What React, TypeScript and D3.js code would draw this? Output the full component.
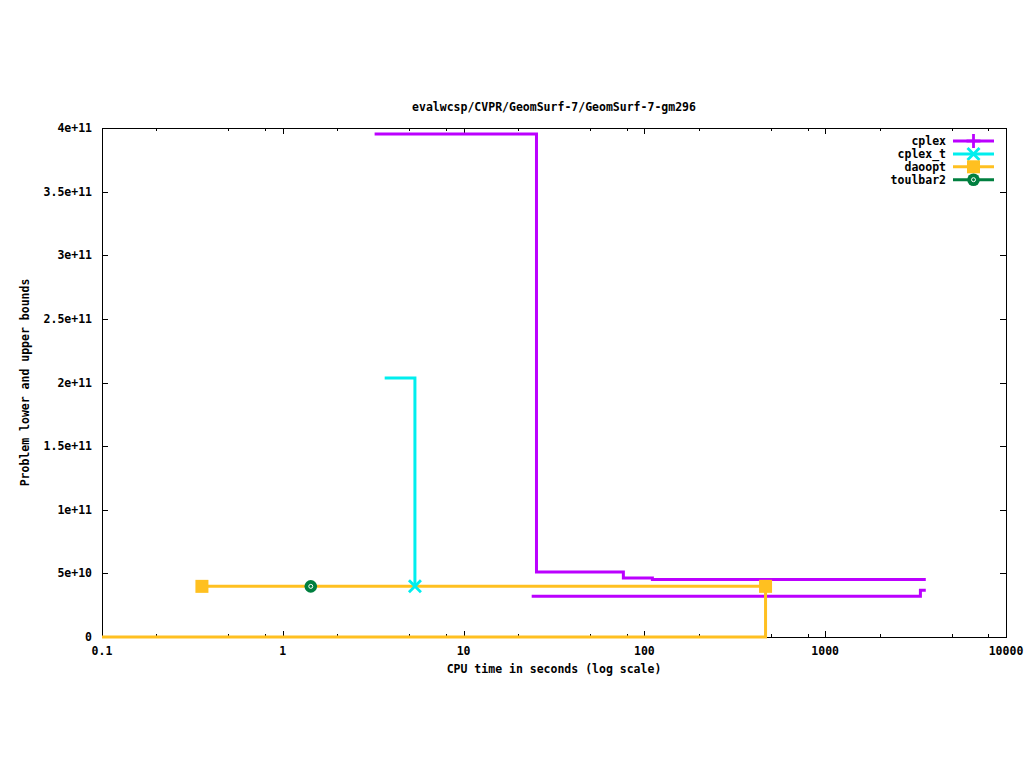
import React from "react";
import * as d3 from "d3";

const title = "evalwcsp/CVPR/GeomSurf-7/GeomSurf-7-gm296";
const xLabel = "CPU time in seconds (log scale)";
const yLabel = "Problem lower and upper bounds";

const xTicks = [0.1, 1, 10, 100, 1000, 10000];
const xTickLabels = ["0.1", "1", "10", "100", "1000", "10000"];
const xMinorFactors = [2, 5, 8];
const yTicks = [0, 5e10, 1e11, 1.5e11, 2e11, 2.5e11, 3e11, 3.5e11, 4e11];
const yTickLabels = ["0", "5e+10", "1e+11", "1.5e+11", "2e+11", "2.5e+11", "3e+11", "3.5e+11", "4e+11"];

// cplex upper bound
const cplexUpperT = [3.22, 25.3, 76.5, 110.7, 3600];
const cplexUpperV = [3.953e11, 5.11e10, 4.64e10, 4.52e10, 4.52e10];
// cplex lower bound
const cplexLowerT = [23.8, 3362, 3600];
const cplexLowerV = [3.2e10, 3.67e10, 3.67e10];
// cplex_t
const cplexTT = [3.66, 5.38];
const cplexTV = [2.035e11, 3.98e10];
// daoopt upper
const daooptUpperT = [0.357, 467.8];
const daooptUpperV = [3.98e10, 3.98e10];
// daoopt lower
const daooptLowerT = [0.1, 467.8];
const daooptLowerV = [0, 3.98e10];
// toulbar2
const toulbarT = [1.428];
const toulbarV = [3.98e10];

const seriesNames = ["cplex", "cplex_t", "daoopt", "toulbar2"];
const colors = ["#bb00ff", "#00eeee", "#ffc020", "#007f3f"];

const FONT = "'DejaVu Sans Mono', monospace";

function Marker({ kind, x, y, color }: { kind: number; x: number; y: number; color: string }) {
  if (kind === 0) {
    return (
      <g stroke={color} strokeWidth={2.8}>
        <line x1={x - 7} x2={x + 7} y1={y} y2={y} />
        <line x1={x} x2={x} y1={y - 7} y2={y + 7} />
      </g>
    );
  }
  if (kind === 1) {
    return (
      <g stroke={color} strokeWidth={2.8}>
        <line x1={x - 6} x2={x + 6} y1={y - 6} y2={y + 6} />
        <line x1={x - 6} x2={x + 6} y1={y + 6} y2={y - 6} />
      </g>
    );
  }
  if (kind === 2) {
    return <rect x={x - 6.5} y={y - 6.5} width={13} height={13} fill={color} />;
  }
  return (
    <g>
      <circle cx={x} cy={y} r={6.3} fill={color} />
      <circle cx={x} cy={y} r={2} fill="none" stroke="#ffffff" strokeWidth={1} />
    </g>
  );
}

export default function App() {
  const W = 1024, H = 768;
  const left = 102, right = 1006, top = 128, bottom = 637;
  const x = d3.scaleLog().domain([0.1, 10000]).range([left, right]);
  const y = d3.scaleLinear().domain([0, 4e11]).range([bottom, top]);

  const line = d3
    .line<[number, number]>()
    .x((d) => x(d[0]))
    .y((d) => y(d[1]))
    .curve(d3.curveStepAfter);

  const zip = (t: number[], v: number[]) => t.map((ti, i) => [ti, v[i]] as [number, number]);

  const minorTicks: number[] = [];
  xTicks.slice(0, -1).forEach((t) => xMinorFactors.forEach((f) => minorTicks.push(t * f)));

  const lw = 3;

  return (
    <svg width={W} height={H} style={{ position: "absolute", left: 0, top: 0, background: "#fff" }}>
      <rect x={0} y={0} width={W} height={H} fill="#fff" />
      {/* ticks */}
      <g stroke="#000" strokeWidth={1}>
        {yTicks.map((t, i) => (
          <g key={"y" + i}>
            <line x1={left} x2={left + 6} y1={Math.round(y(t)) + 0.5} y2={Math.round(y(t)) + 0.5} />
            <line x1={right} x2={right - 6} y1={Math.round(y(t)) + 0.5} y2={Math.round(y(t)) + 0.5} />
          </g>
        ))}
        {xTicks.map((t, i) => (
          <g key={"x" + i}>
            <line x1={Math.round(x(t)) + 0.5} x2={Math.round(x(t)) + 0.5} y1={bottom} y2={bottom - 6} />
            <line x1={Math.round(x(t)) + 0.5} x2={Math.round(x(t)) + 0.5} y1={top} y2={top + 6} />
          </g>
        ))}
        {minorTicks.map((t, i) => (
          <g key={"m" + i}>
            <line x1={Math.round(x(t)) + 0.5} x2={Math.round(x(t)) + 0.5} y1={bottom} y2={bottom - 3} />
            <line x1={Math.round(x(t)) + 0.5} x2={Math.round(x(t)) + 0.5} y1={top} y2={top + 3} />
          </g>
        ))}
      </g>
      <rect x={left + 0.5} y={top + 0.5} width={right - left} height={bottom - top} fill="none" stroke="#000" strokeWidth={1} />

      {/* tick labels */}
      <g fontFamily={FONT} fontSize={11.5} fontWeight="bold" fill="#000">
        {yTicks.map((t, i) => (
          <text key={"yl" + i} x={92} y={y(t)} textAnchor="end" dominantBaseline="central">
            {yTickLabels[i]}
          </text>
        ))}
        {xTicks.map((t, i) => (
          <text key={"xl" + i} x={x(t)} y={651} textAnchor="middle" dominantBaseline="central">
            {xTickLabels[i]}
          </text>
        ))}
        <text x={(left + right) / 2} y={669} textAnchor="middle" dominantBaseline="central">
          {xLabel}
        </text>
        <text
          x={25}
          y={(top + bottom) / 2}
          textAnchor="middle"
          dominantBaseline="central"
          transform={`rotate(-90, 25, ${(top + bottom) / 2})`}
        >
          {yLabel}
        </text>
        <text x={(left + right) / 2} y={107} textAnchor="middle" dominantBaseline="central">
          {title}
        </text>
      </g>

      {/* series */}
      <g fill="none" strokeWidth={lw}>
        <path d={line(zip(cplexUpperT, cplexUpperV)) || ""} stroke={colors[0]} />
        <path d={line(zip(cplexLowerT, cplexLowerV)) || ""} stroke={colors[0]} />
        <path d={line(zip(cplexTT, cplexTV)) || ""} stroke={colors[1]} />
        <path d={line(zip(daooptUpperT, daooptUpperV)) || ""} stroke={colors[2]} />
        <path d={line(zip(daooptLowerT, daooptLowerV)) || ""} stroke={colors[2]} />
      </g>
      <Marker kind={1} x={x(cplexTT[1])} y={y(cplexTV[1])} color={colors[1]} />
      {daooptUpperT.map((t, i) => (
        <Marker key={"d" + i} kind={2} x={x(t)} y={y(daooptUpperV[i])} color={colors[2]} />
      ))}
      {toulbarT.map((t, i) => (
        <Marker key={"t" + i} kind={3} x={x(t)} y={y(toulbarV[i])} color={colors[3]} />
      ))}

      {/* legend */}
      {seriesNames.map((n, i) => {
        const ly = 141 + i * 12.9;
        return (
          <g key={"lg" + i}>
            <text
              x={946}
              y={ly}
              textAnchor="end"
              dominantBaseline="central"
              fontFamily={FONT}
              fontSize={11.5}
              fontWeight="bold"
              fill="#000"
            >
              {n}
            </text>
            <line x1={953} x2={994} y1={ly} y2={ly} stroke={colors[i]} strokeWidth={lw} />
            <Marker kind={i} x={973.5} y={ly} color={colors[i]} />
          </g>
        );
      })}
    </svg>
  );
}
